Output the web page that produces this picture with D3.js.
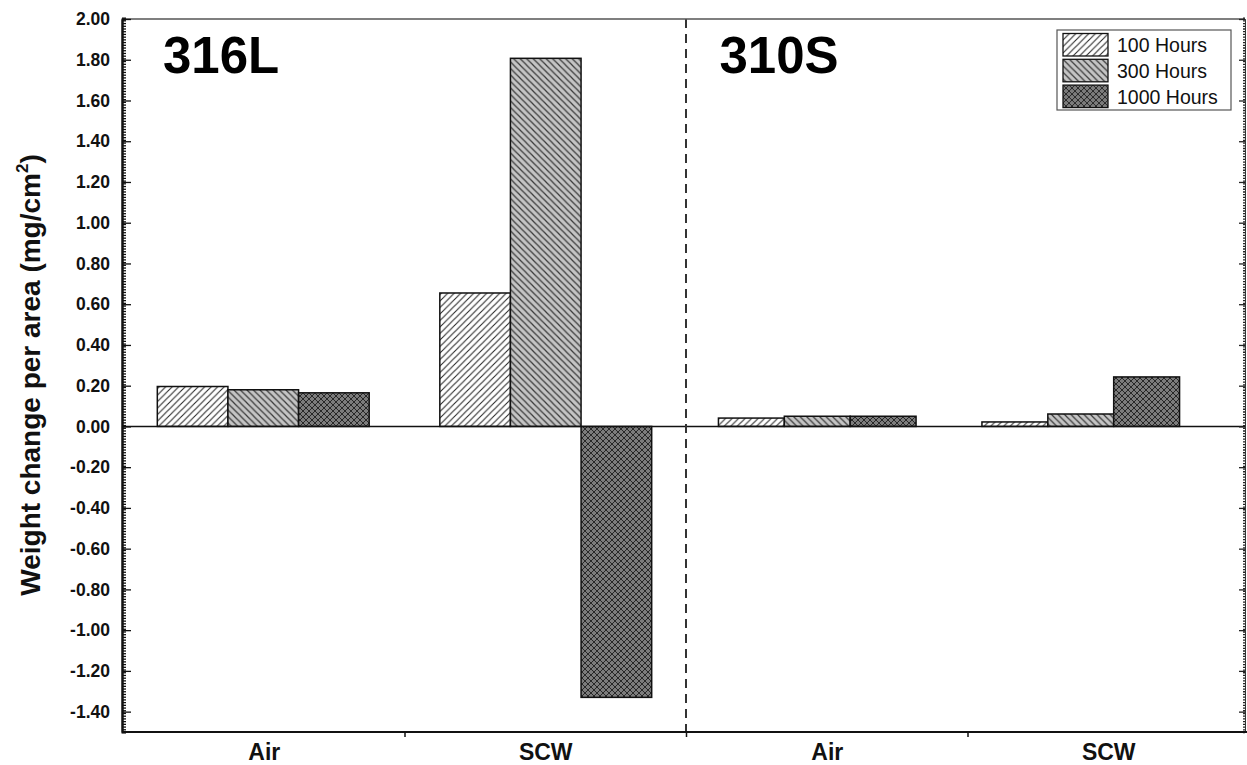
<!DOCTYPE html>
<html>
<head>
<meta charset="utf-8">
<script src="https://cdn.jsdelivr.net/npm/d3@7"></script>
<style>
  html, body { margin: 0; padding: 0; background: #ffffff; }
  svg { display: block; }
  text { font-family: Arial, "Liberation Sans", sans-serif; }
</style>
</head>
<body>
<svg id="chart" width="1247" height="765"></svg>
<script>
// ---- data ----
const alloys = ["316L", "310S"];
const environments = ["Air", "SCW"];
const durations = ["100 Hours", "300 Hours", "1000 Hours"];
// weight change (mg/cm^2), order: 316L Air, 316L SCW, 310S Air, 310S SCW
const hours100 = [0.196, 0.655, 0.041, 0.022];
const hours300 = [0.180, 1.807, 0.050, 0.061];
const hours1000 = [0.165, -1.330, 0.050, 0.243];
const yTickLabels = ["-1.40", "-1.20", "-1.00", "-0.80", "-0.60", "-0.40", "-0.20", "0.00",
                     "0.20", "0.40", "0.60", "0.80", "1.00", "1.20", "1.40", "1.60", "1.80", "2.00"];
const xCategoryLabels = ["Air", "SCW", "Air", "SCW"];
const yLabel = "Weight change per area (mg/cm";

const series = [hours100, hours300, hours1000];
const records = [];
alloys.forEach((alloy, ai) => {
  environments.forEach((env, ei) => {
    const idx = ai * environments.length + ei;
    durations.forEach((dur, di) => {
      records.push({ alloy, env, dur, value: series[di][idx] });
    });
  });
});

// ---- layout ----
const svg = d3.select("#chart");
const plotLeft = 122, plotRight = 1245, plotTop = 19, plotBottom = 732;

const y = d3.scaleLinear().domain([-1.5, 2.0]).range([plotBottom, plotTop]);
const xAxisScale = d3.scaleLinear().domain([0, 4]).range([123, 1249]);

// each alloy panel has its own grouping of environments
const panelRange = { "316L": [122, 687], "310S": [685.5, 1212.5] };
const panelScale = {};
alloys.forEach(a => {
  panelScale[a] = d3.scaleBand().domain(environments).range(panelRange[a])
    .paddingInner(0.25).paddingOuter(0.125);
});

// ---- fill patterns ----
const defs = svg.append("defs");
function stripePattern(id, bg, dir, period, stroke, sw) {
  const p = defs.append("pattern").attr("id", id)
    .attr("patternUnits", "userSpaceOnUse").attr("width", period).attr("height", period);
  p.append("rect").attr("width", period).attr("height", period).attr("fill", bg);
  const lines = [];
  if (dir === "/" || dir === "x") {
    lines.push([0, period, period, 0], [-period, period, period, -period], [0, 2 * period, 2 * period, 0]);
  }
  if (dir === "\\" || dir === "x") {
    lines.push([0, 0, period, period], [-period, 0, period, 2 * period], [0, -period, 2 * period, period]);
  }
  lines.forEach(l => p.append("line")
    .attr("x1", l[0]).attr("y1", l[1]).attr("x2", l[2]).attr("y2", l[3])
    .attr("stroke", stroke).attr("stroke-width", sw));
}
stripePattern("pat100", "#ffffff", "/", 6.5, "#2a2a2a", 1.1);
stripePattern("pat300", "#c4c4c4", "\\", 6.5, "#3a3a3a", 1.2);
stripePattern("pat1000", "#7c7c7c", "x", 6, "#1e1e1e", 0.9);
const patternFor = { "100 Hours": "url(#pat100)", "300 Hours": "url(#pat300)", "1000 Hours": "url(#pat1000)" };

// ---- bars ----
const barG = svg.append("g");
alloys.forEach(a => {
  const outer = panelScale[a];
  const inner = d3.scaleBand().domain(durations).range([0, outer.bandwidth()]);
  barG.selectAll(null)
    .data(records.filter(r => r.alloy === a))
    .join("rect")
    .attr("x", d => outer(d.env) + inner(d.dur))
    .attr("width", inner.bandwidth())
    .attr("y", d => y(Math.max(0, d.value)))
    .attr("height", d => Math.abs(y(d.value) - y(0)))
    .attr("fill", d => patternFor[d.dur])
    .attr("stroke", "#111")
    .attr("stroke-width", 1.5);
});

// ---- zero line and panel separator ----
svg.append("line").attr("x1", plotLeft).attr("x2", plotRight).attr("y1", y(0)).attr("y2", y(0))
  .attr("stroke", "#111").attr("stroke-width", 1.6);
svg.append("line").attr("x1", xAxisScale(2)).attr("x2", xAxisScale(2))
  .attr("y1", plotTop).attr("y2", plotBottom)
  .attr("stroke", "#333").attr("stroke-width", 2).attr("stroke-dasharray", "9,6");

// ---- frame ----
svg.append("line").attr("x1", plotLeft).attr("x2", plotRight).attr("y1", plotTop).attr("y2", plotTop)
  .attr("stroke", "#555").attr("stroke-width", 1.5);

// ---- y axes ----
const majorTicks = yTickLabels.map(Number);
const minorStep = 0.2 / 15;
const minorTicks = d3.range(0, Math.round(3.5 / minorStep) + 1).map(i => -1.5 + i * minorStep);

const yMinorL = svg.append("g").attr("transform", `translate(${plotLeft},0)`)
  .call(d3.axisLeft(y).tickValues(minorTicks).tickSize(-4).tickFormat(""));
const yMajorL = svg.append("g").attr("transform", `translate(${plotLeft},0)`)
  .call(d3.axisLeft(y).tickValues(majorTicks).tickSizeInner(-9).tickSizeOuter(0).tickPadding(12)
    .tickFormat((d, i) => yTickLabels[i]));
[yMinorL, yMajorL].forEach(g => {
  g.select(".domain").attr("stroke", "#111").attr("stroke-width", 2);
  g.selectAll(".tick line").attr("stroke", "#111").attr("stroke-width", 1.3);
});
yMajorL.selectAll(".tick text")
  .attr("font-size", 17.5).attr("font-weight", "bold").attr("fill", "#111")
  .attr("font-family", "Arial, 'Liberation Sans', sans-serif");

const yMinorR = svg.append("g").attr("transform", `translate(${plotRight},0)`)
  .call(d3.axisRight(y).tickValues(minorTicks).tickSize(-2).tickFormat(""));
const yMajorR = svg.append("g").attr("transform", `translate(${plotRight},0)`)
  .call(d3.axisRight(y).tickValues(majorTicks).tickSizeInner(-6).tickSizeOuter(0).tickFormat(""));
[yMinorR, yMajorR].forEach(g => {
  g.select(".domain").attr("stroke", "#333").attr("stroke-width", 1);
  g.selectAll(".tick line").attr("stroke", "#222").attr("stroke-width", 1.3);
});

// ---- x axis ----
const xAxisG = svg.append("g").attr("transform", `translate(0,${plotBottom})`)
  .call(d3.axisBottom(xAxisScale).tickValues([1, 2, 3]).tickSizeInner(5).tickSizeOuter(0).tickFormat(""));
xAxisG.select(".domain").attr("d", `M${plotLeft},0H1247`).attr("stroke", "#111").attr("stroke-width", 2);
xAxisG.selectAll(".tick line").attr("stroke", "#111").attr("stroke-width", 1.5);

const xLabelG = svg.append("g").attr("transform", `translate(0,${plotBottom})`)
  .call(d3.axisBottom(xAxisScale).tickValues([0.5, 1.5, 2.5, 3.5]).tickSize(0).tickPadding(12)
    .tickFormat((d, i) => xCategoryLabels[i]));
xLabelG.select(".domain").remove();
xLabelG.selectAll(".tick text")
  .attr("font-size", 23).attr("font-weight", "bold").attr("fill", "#111")
  .attr("font-family", "Arial, 'Liberation Sans', sans-serif");

// ---- y label ----
const yl = svg.append("text")
  .attr("transform", "translate(40,375) rotate(-90)")
  .attr("text-anchor", "middle")
  .attr("font-size", 28).attr("font-weight", "bold").attr("fill", "#111");
yl.append("tspan").text(yLabel);
yl.append("tspan").attr("font-size", 17).attr("dy", -12).text("2");
yl.append("tspan").attr("dy", 12).text(")");

// ---- panel titles ----
svg.selectAll(".panel-title")
  .data(alloys)
  .join("text")
  .attr("class", "panel-title")
  .attr("x", a => panelScale[a].range()[0] + (a === "316L" ? 41 : 34))
  .attr("y", 73)
  .attr("font-size", 51).attr("font-weight", "bold").attr("fill", "#000")
  .text(a => a);

// ---- legend ----
const legend = svg.append("g").attr("transform", "translate(1057,30)");
legend.append("rect").attr("width", 174).attr("height", 80)
  .attr("fill", "#fff").attr("stroke", "#555").attr("stroke-width", 1.2);
const legRow = legend.selectAll(".row").data(durations).join("g")
  .attr("class", "row")
  .attr("transform", (d, i) => `translate(6,${3.5 + i * 25.8})`);
legRow.append("rect").attr("width", 45).attr("height", 22.5)
  .attr("fill", d => patternFor[d]).attr("stroke", "#111").attr("stroke-width", 1.3);
legRow.append("text").attr("x", 54).attr("y", 18.5)
  .attr("font-size", 19.5).attr("fill", "#111").text(d => d);
</script>
</body>
</html>
